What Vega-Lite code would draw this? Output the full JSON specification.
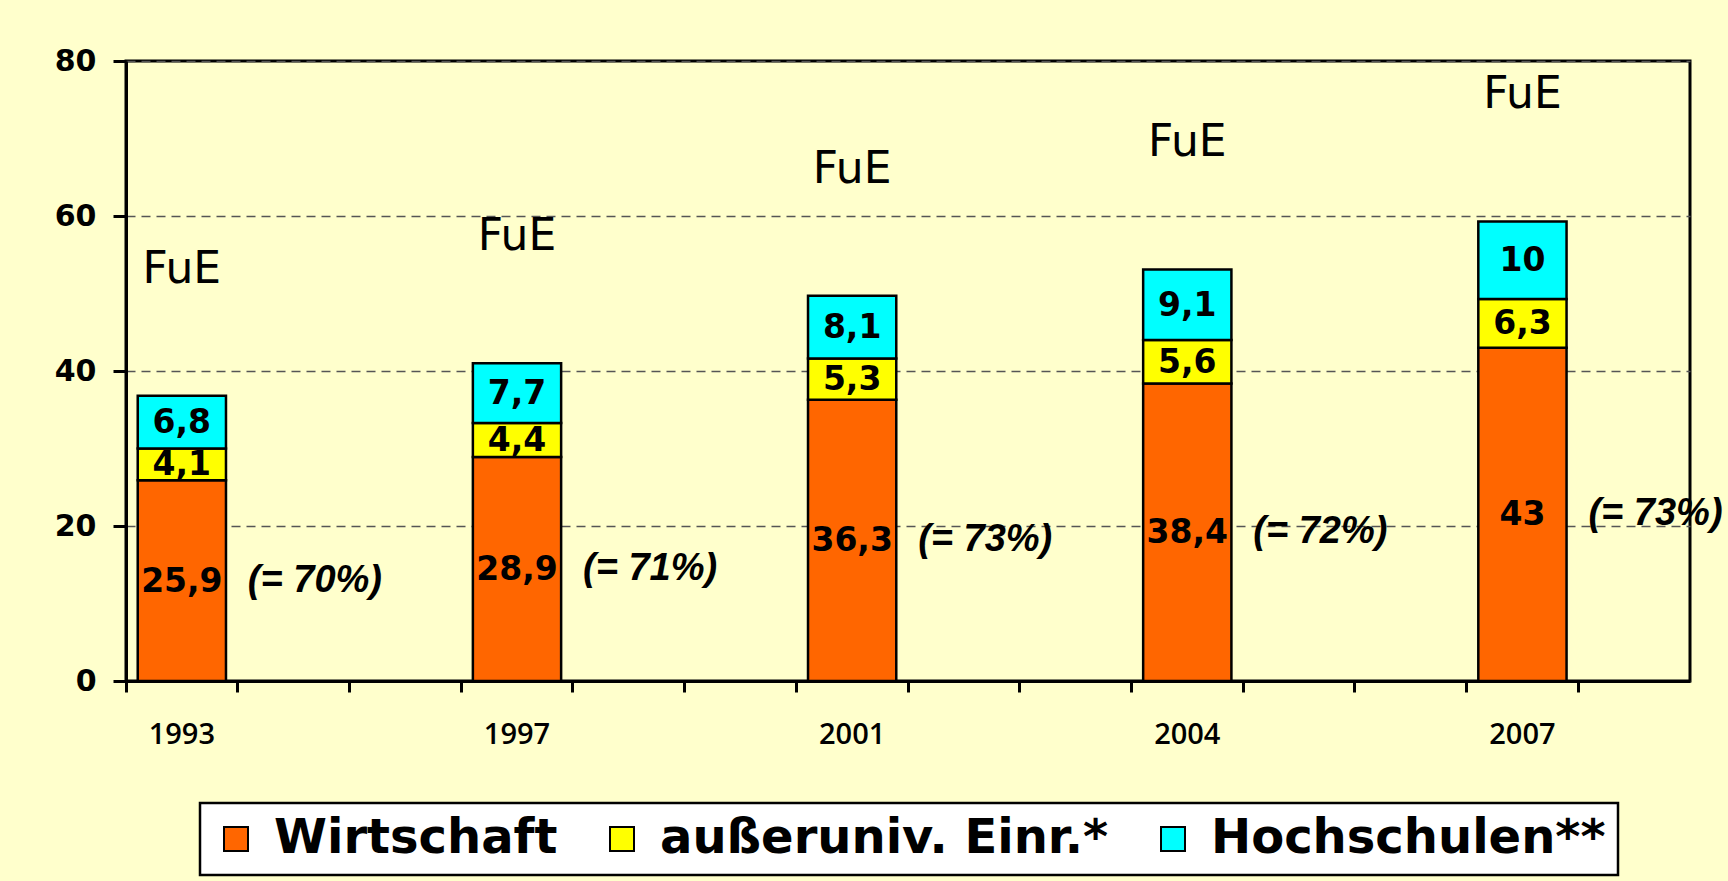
{
  "$schema": "https://vega.github.io/schema/vega-lite/v6.json",
  "width": 1564,
  "height": 620,
  "autosize": {"type": "none"},
  "padding": {"left": 126, "top": 61, "right": 38, "bottom": 200},
  "background": "#FFFFCC",
  "config": {
    "view": {"fill": "#FFFFCC", "stroke": "black", "strokeWidth": 3},
    "legend": {"strokeWidth": 2.5},
    "locale": {"number": {"decimal": ",", "thousands": ".", "grouping": [3], "currency": ["", " €"]}}
  },
  "data": {
    "values": [
      {"year": "1993", "sector": "Wirtschaft", "value": 25.9, "share": "(= 70%)"},
      {"year": "1993", "sector": "außeruniv. Einr.*", "value": 4.1},
      {"year": "1993", "sector": "Hochschulen**", "value": 6.8},
      {"year": "1997", "sector": "Wirtschaft", "value": 28.9, "share": "(= 71%)"},
      {"year": "1997", "sector": "außeruniv. Einr.*", "value": 4.4},
      {"year": "1997", "sector": "Hochschulen**", "value": 7.7},
      {"year": "2001", "sector": "Wirtschaft", "value": 36.3, "share": "(= 73%)"},
      {"year": "2001", "sector": "außeruniv. Einr.*", "value": 5.3},
      {"year": "2001", "sector": "Hochschulen**", "value": 8.1},
      {"year": "2004", "sector": "Wirtschaft", "value": 38.4, "share": "(= 72%)"},
      {"year": "2004", "sector": "außeruniv. Einr.*", "value": 5.6},
      {"year": "2004", "sector": "Hochschulen**", "value": 9.1},
      {"year": "2007", "sector": "Wirtschaft", "value": 43, "share": "(= 73%)"},
      {"year": "2007", "sector": "außeruniv. Einr.*", "value": 6.3},
      {"year": "2007", "sector": "Hochschulen**", "value": 10}
    ]
  },
  "transform": [
    {"window": [{"op": "row_number", "as": "k"}], "groupby": ["year"]}
  ],
  "encoding": {
    "x": {
      "field": "year",
      "type": "ordinal",
      "scale": {
        "domain": ["1993", "_1", "_2", "1997", "_3", "_4", "2001", "_5", "_6", "2004", "_7", "_8", "2007", "_9"],
        "paddingInner": 0,
        "paddingOuter": 0
      },
      "axis": {
        "title": null,
        "bandPosition": 0,
        "labelExpr": "indexof(datum.label, '_') == 0 ? '' : datum.label",
        "labelAngle": 0,
        "labelOverlap": false,
        "labelFont": "Open Sans",
        "labelFontWeight": 600,
        "labelFontSize": 29,
        "labelColor": "black",
        "labelPadding": 28,
        "domainColor": "black",
        "domainWidth": 3,
        "tickColor": "black",
        "tickWidth": 3,
        "tickSize": 11,
        "grid": false
      }
    }
  },
  "layer": [
    {
      "mark": {"type": "bar", "width": {"band": 0.79}, "stroke": "black", "strokeWidth": 2.5},
      "encoding": {
        "y": {
          "field": "value",
          "type": "quantitative",
          "stack": "zero",
          "scale": {"domain": [0, 80], "nice": false},
          "axis": {
            "title": null,
            "values": [0, 20, 40, 60, 80],
            "labelFont": "DejaVu Sans",
            "labelFontWeight": "bold",
            "labelFontSize": 30,
            "labelColor": "black",
            "labelPadding": 17,
            "domainColor": "black",
            "domainWidth": 3,
            "tickColor": "black",
            "tickWidth": 3,
            "tickSize": 13,
            "grid": true,
            "gridColor": "#555555",
            "gridDash": [9, 6],
            "gridWidth": 1.5
          }
        },
        "color": {
          "field": "sector",
          "type": "nominal",
          "scale": {
            "domain": ["Wirtschaft", "außeruniv. Einr.*", "Hochschulen**"],
            "range": ["#FF6600", "#FFFF00", "#00FFFF"]
          },
          "legend": {
            "title": null,
            "orient": "none",
            "direction": "horizontal",
            "legendX": 74,
            "legendY": 742,
            "fillColor": "white",
            "strokeColor": "black",
            "padding": 12,
            "symbolType": "square",
            "symbolSize": 576,
            "symbolStrokeColor": "black",
            "symbolStrokeWidth": 2,
            "symbolOpacity": 1,
            "labelFont": "DejaVu Sans",
            "labelFontWeight": "bold",
            "labelFontSize": 48,
            "labelColor": "black",
            "labelLimit": 0,
            "labelOffset": 14,
            "columnPadding": 40
          }
        },
        "order": {"field": "k", "type": "quantitative"}
      }
    },
    {
      "mark": {"type": "text", "font": "DejaVu Sans", "fontWeight": "bold", "fontSize": 33, "color": "black", "baseline": "middle", "dy": 1},
      "encoding": {
        "y": {"field": "value", "type": "quantitative", "stack": "zero", "bandPosition": 0.5},
        "detail": {"field": "sector"},
        "order": {"field": "k", "type": "quantitative"},
        "text": {"field": "value", "type": "quantitative", "format": ".1~f"}
      }
    },
    {
      "transform": [{"filter": "datum.sector == 'Wirtschaft'"}],
      "mark": {"type": "text", "font": "Liberation Sans", "fontWeight": "bold", "fontStyle": "italic", "fontSize": 38, "color": "black", "align": "left", "baseline": "middle", "dx": 66},
      "encoding": {
        "y": {"field": "value", "type": "quantitative", "stack": "zero", "bandPosition": 0.5},
        "text": {"field": "share", "type": "nominal"}
      }
    },
    {
      "mark": {"type": "text", "font": "DejaVu Sans", "fontSize": 44, "color": "black", "baseline": "middle", "dy": -126},
      "encoding": {
        "y": {"aggregate": "sum", "field": "value", "type": "quantitative"},
        "text": {"value": "FuE"}
      }
    }
  ]
}
